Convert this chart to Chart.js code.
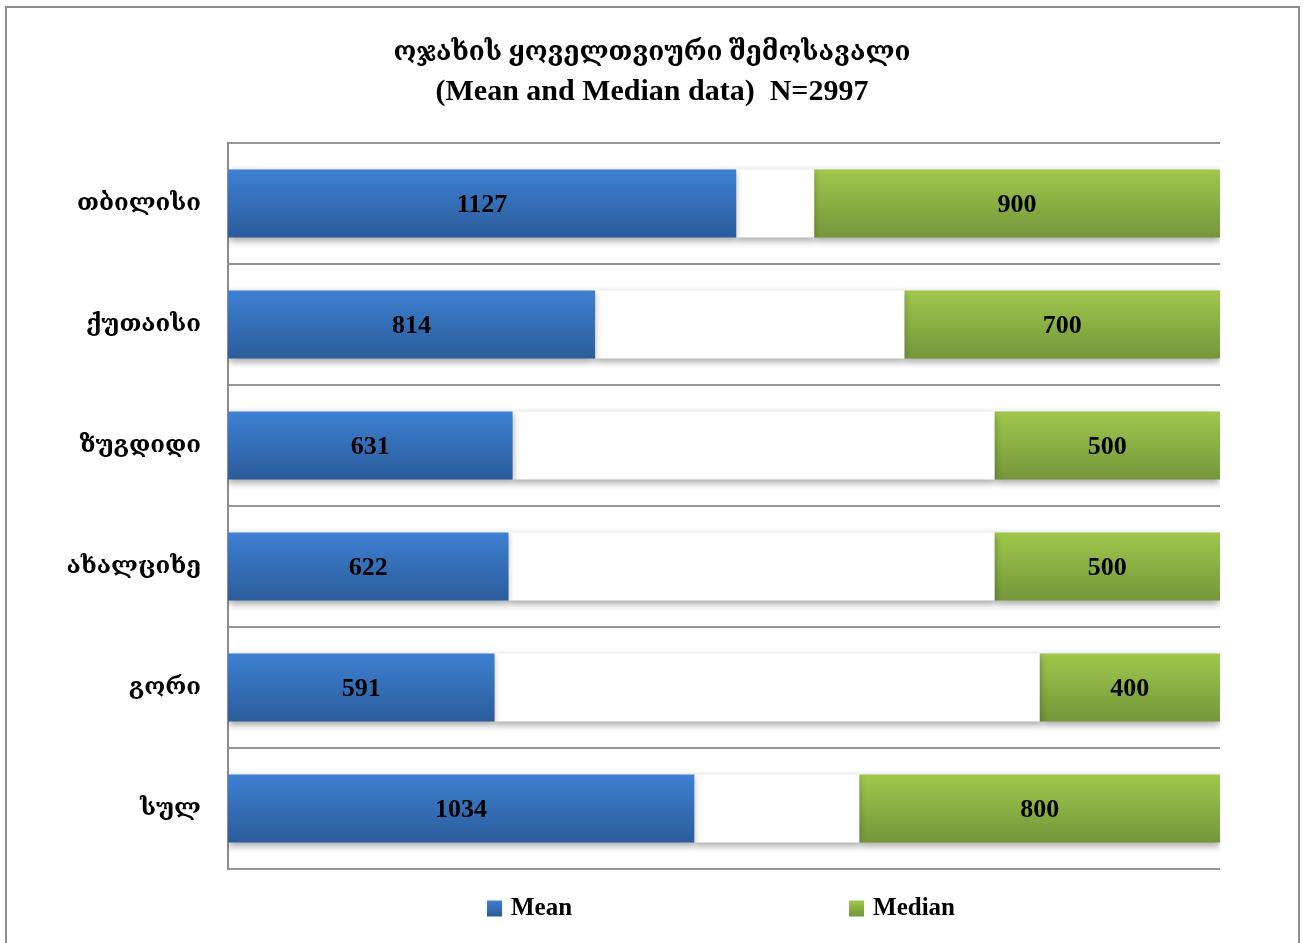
<!DOCTYPE html>
<html>
<head>
<meta charset="utf-8">
<script src="https://cdn.jsdelivr.net/npm/chart.js@4.4.1/dist/chart.umd.min.js"></script>
<style>
    html, body { margin: 0; padding: 0; background: #fff; overflow: hidden; }
    #frame {
        position: absolute; left: 5px; top: 6px;
        width: 1291px; height: 960px;
        border: 2px solid #8e8e8e; border-bottom: none;
    }
    #wrap { position: relative; width: 1291px; height: 935px; }
</style>
</head>
<body>
<div id="frame"><div id="wrap"><canvas id="grafico"></canvas></div></div>
<script>
// Dados do gráfico
const categories = ['თბილისი', 'ქუთაისი', 'ზუგდიდი', 'ახალციხე', 'გორი', 'სულ'];
const meanValues = [1127, 814, 631, 622, 591, 1034];
const medianValues = [900, 700, 500, 500, 400, 800];
const axisMax = 2200;
const titleText = 'ოჯახის ყოველთვიური შემოსავალი';
const subtitleText = '(Mean and Median data)  N=2997';

const FONT = "'Liberation Serif', 'DejaVu Serif', serif";

// Espaçador branco entre as duas séries (Excel: série invisível)
const gapValues = categories.map((_, i) => axisMax - meanValues[i] - medianValues[i]);

const palette = {
    mean: ['#3d80d2', '#2b5c9b'],
    median: ['#9fc84c', '#74963a']
};

function barGradient(ctx, colors) {
    const chart = ctx.chart;
    if (!chart.chartArea || !chart.scales.y) return colors[0];
    const y = chart.scales.y.getPixelForTick(ctx.dataIndex);
    const h = 34;
    const g = chart.ctx.createLinearGradient(0, y - h, 0, y + h);
    g.addColorStop(0, colors[0]);
    g.addColorStop(1, colors[1]);
    return g;
}

// Sombra das barras
const shadowPlugin = {
    id: 'barShadow',
    beforeDatasetsDraw(chart) {
        const c = chart.ctx;
        c.save();
        c.shadowColor = 'rgba(0,0,0,0.35)';
        c.shadowBlur = 7;
        c.shadowOffsetY = 3;
    },
    afterDatasetsDraw(chart) {
        chart.ctx.restore();
    }
};

// Rótulos dentro das barras
const valueLabels = {
    id: 'valueLabels',
    afterDatasetsDraw(chart) {
        const c = chart.ctx;
        c.save();
        c.font = 'bold 26px ' + FONT;
        c.fillStyle = '#000';
        c.textAlign = 'center';
        c.textBaseline = 'middle';
        [0, 2].forEach(di => {
            const meta = chart.getDatasetMeta(di);
            meta.data.forEach((bar, i) => {
                const p = bar.getCenterPoint();
                c.fillText(String(chart.data.datasets[di].data[i]), p.x, p.y + 2);
            });
        });
        c.restore();
    }
};

// Legenda embaixo, centrada na área do gráfico
const bottomLegend = {
    id: 'bottomLegend',
    afterDraw(chart) {
        const c = chart.ctx;
        const area = chart.chartArea;
        const items = [
            { text: 'Mean', colors: palette.mean },
            { text: 'Median', colors: palette.median }
        ];
        const box = 15, gapText = 9, gapItems = 277;
        c.save();
        c.font = 'bold 25px ' + FONT;
        const widths = items.map(it => box + gapText + c.measureText(it.text).width);
        const total = widths[0] + gapItems + widths[1];
        let x = (area.left + area.right) / 2 - total / 2 - 3;
        const y = 900;
        items.forEach((it, i) => {
            const g = c.createLinearGradient(0, y - box / 2, 0, y + box / 2);
            g.addColorStop(0, it.colors[0]);
            g.addColorStop(1, it.colors[1]);
            c.fillStyle = g;
            c.fillRect(x, y - box / 2, box, box + 1);
            c.fillStyle = '#000';
            c.textAlign = 'left';
            c.textBaseline = 'middle';
            c.fillText(it.text, x + box + gapText, y + 1);
            x += widths[i] + gapItems;
        });
        c.restore();
    }
};

new Chart(document.getElementById('grafico'), {
    type: 'bar',
    data: {
        labels: categories,
        datasets: [
            {
                label: 'Mean', data: meanValues,
                backgroundColor: ctx => barGradient(ctx, palette.mean)
            },
            {
                label: 'gap', data: gapValues,
                backgroundColor: '#ffffff'
            },
            {
                label: 'Median', data: medianValues,
                backgroundColor: ctx => barGradient(ctx, palette.median)
            }
        ]
    },
    options: {
        indexAxis: 'y',
        responsive: true,
        maintainAspectRatio: false,
        animation: false,
        datasets: { bar: { barPercentage: 0.562, categoryPercentage: 1, borderWidth: 0 } },
        layout: { padding: { left: 0, right: 1, top: 0, bottom: 74 } },
        scales: {
            x: { stacked: true, min: 0, max: axisMax, display: false },
            y: {
                stacked: true,
                afterFit: s => { s.width = 221; },
                grid: { offset: true, color: '#969696', lineWidth: 2, drawTicks: false },
                border: { color: '#8c8c8c', width: 2 },
                ticks: { color: '#000', padding: 27, font: { family: FONT, size: 24, weight: 'bold' } }
            },
            // eixo vazio à direita, só para reservar a margem
            yRight: {
                position: 'right',
                afterFit: s => { s.width = 77; },
                grid: { display: false },
                border: { display: false },
                ticks: { display: false }
            }
        },
        plugins: {
            legend: { display: false },
            tooltip: { enabled: false },
            title: {
                display: true,
                text: titleText,
                color: '#000',
                font: { family: FONT, size: 26, weight: 'bold', lineHeight: '40px' },
                padding: { top: 25, bottom: 0 }
            },
            subtitle: {
                display: true,
                text: subtitleText,
                color: '#000',
                font: { family: FONT, size: 30, weight: 'bold', lineHeight: '36px' },
                padding: { top: 1, bottom: 33 }
            }
        }
    },
    plugins: [shadowPlugin, valueLabels, bottomLegend]
});
</script>
</body>
</html>
